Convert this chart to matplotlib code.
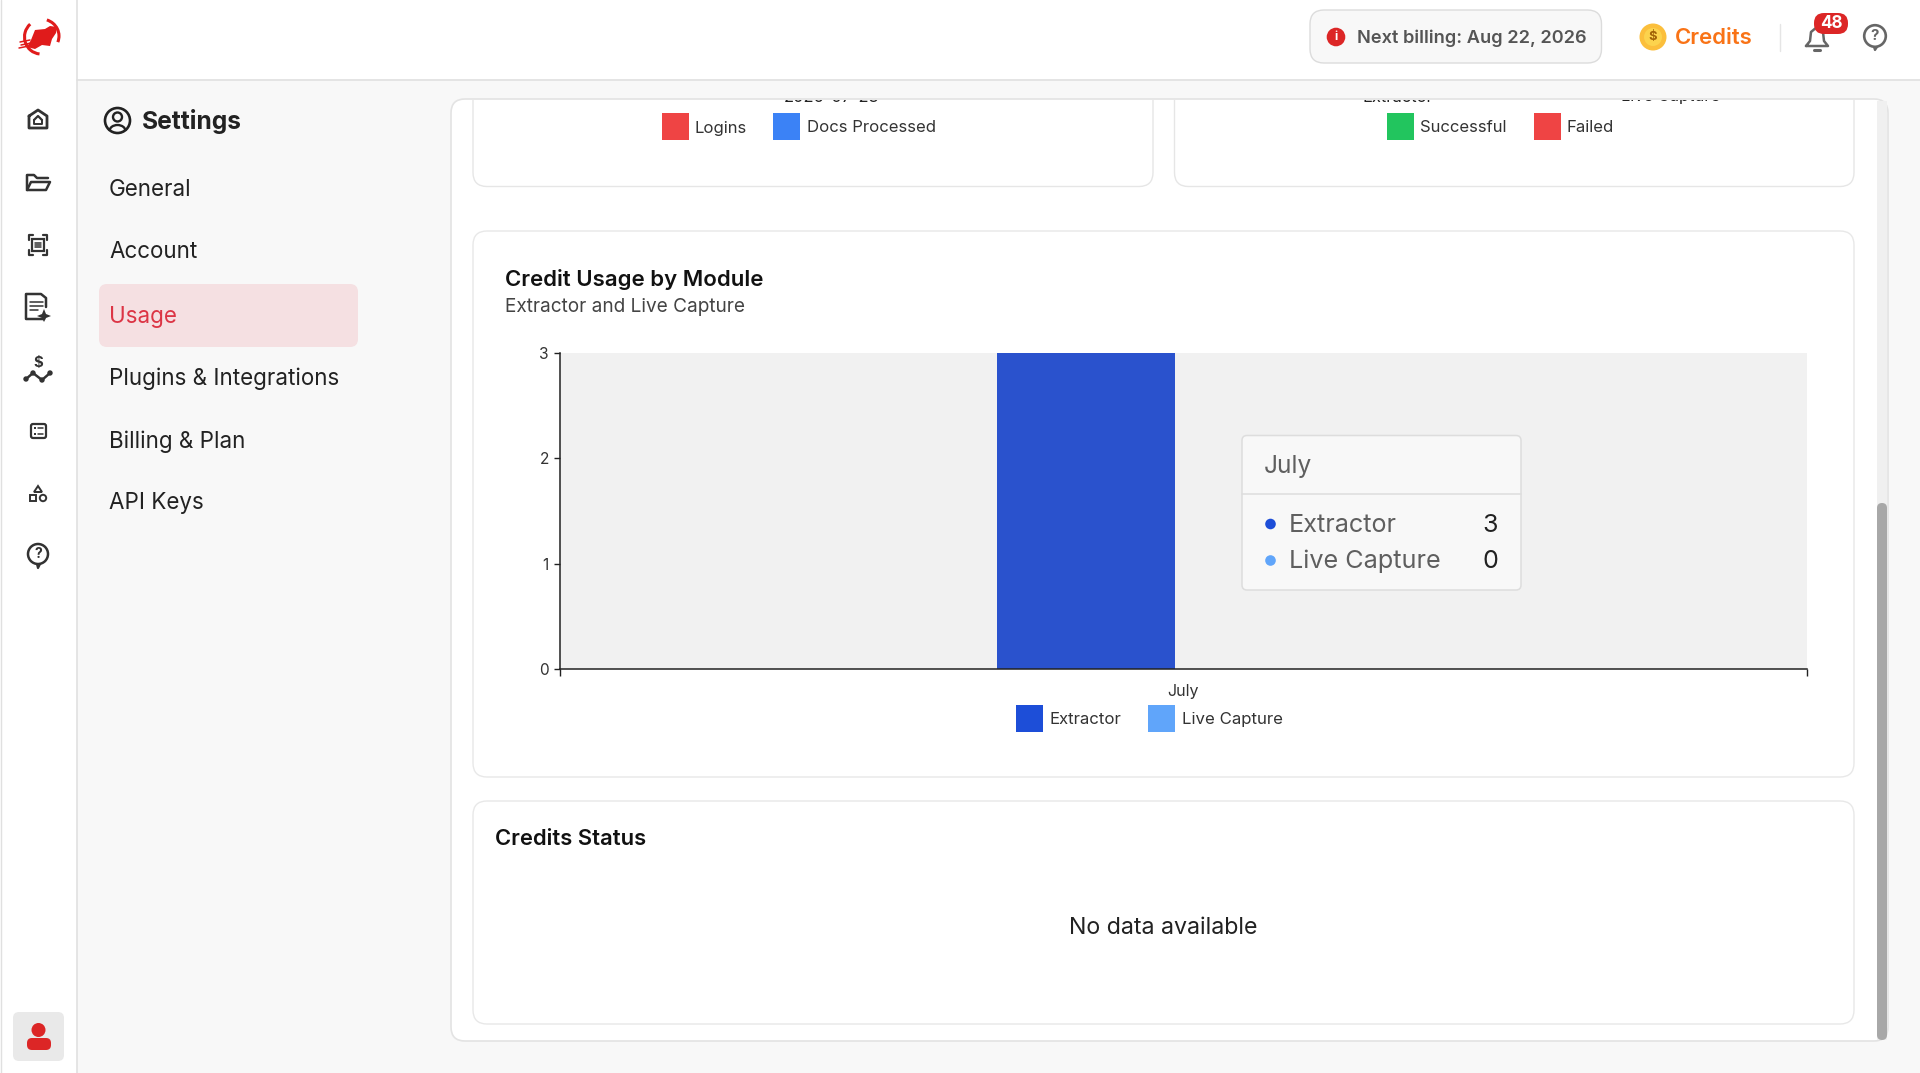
import matplotlib
matplotlib.use("Agg")
import matplotlib.pyplot as plt
from matplotlib.patches import FancyBboxPatch, Rectangle, Circle, Polygon, Patch, Arc
from matplotlib.lines import Line2D

plt.rcParams['font.family'] = ['Inter', 'DejaVu Sans']

# ---- data ----
months = ['July']
series_names = ['Extractor', 'Live Capture']
extractor = [3]
live_capture = [0]
y_ticks = [0, 1, 2, 3]
nav_items = ['General', 'Account', 'Usage', 'Plugins & Integrations', 'Billing & Plan', 'API Keys']

W, H = 1920, 1073
fig = plt.figure(figsize=(W / 100, H / 100), dpi=100, facecolor='#f8f8f8')

def px_axes(z):
    a = fig.add_axes([0, 0, 1, 1], zorder=z)
    a.set_xlim(0, W); a.set_ylim(H, 0); a.axis('off')
    a.patch.set_alpha(0)
    return a

bg = px_axes(0)
fg = px_axes(3)

def fs(px):
    return px * 0.72

def T(a, x, y, s, px, color='#222222', ha='left', weight='normal', **kw):
    return a.text(x, y + 3.5, s, fontsize=fs(px), color=color, ha=ha, va='center', fontweight=weight, **kw)

def RR(a, x0, y0, x1, y1, r, fc, ec='none', lw=1.0, z=1, clip=None):
    p = FancyBboxPatch((x0, y0), x1 - x0, y1 - y0, boxstyle=f'round,pad=0,rounding_size={r}',
                       fc=fc, ec=ec, lw=lw, zorder=z)
    a.add_patch(p)
    if clip is not None:
        p.set_clip_path(clip)
    return p

def L(a, xs, ys, c='#333333', lw=1.8, z=5):
    a.add_line(Line2D(xs, ys, color=c, lw=lw, zorder=z, solid_capstyle='round', solid_joinstyle='round'))

# ---- cards ----
RR(bg, 451, 99, 1888, 1041, 14, '#ffffff', '#e3e3e3', 1.2, z=1)
clip_rect = Rectangle((440, 99.5), 1460, 200, transform=bg.transData)
RR(bg, 473, 60, 1153, 186.5, 14, '#ffffff', '#e6e6e6', 1.0, z=2, clip=clip_rect)
RR(bg, 1174.5, 60, 1854, 186.5, 14, '#ffffff', '#e6e6e6', 1.0, z=2, clip=clip_rect)
RR(bg, 473, 231, 1854, 777, 14, '#ffffff', '#e8e8e8', 1.0, z=2)
RR(bg, 473, 801, 1854, 1024, 14, '#ffffff', '#e8e8e8', 1.0, z=2)

# scrollbar
bg.add_patch(Rectangle((1877, 101), 10, 939, fc='#f0f0f0', ec='none', zorder=3))
RR(bg, 1877, 503, 1887, 1040, 5, '#a8a8a8', z=4)

# cropped charts above
for x, s in [(832, '2026-07-23'), (1398, 'Extractor'), (1671, 'Live Capture')]:
    t = T(bg, x, 93.5, s, 16.5, '#222222', ha='center', zorder=3, clip_on=True)
    t.set_clip_path(clip_rect)
for x0, x1, c, tx, s in [(662, 689, '#ef4444', 695, 'Logins'),
                         (773, 800, '#3b82f6', 807, 'Docs Processed'),
                         (1387, 1414, '#22c55e', 1420, 'Successful'),
                         (1534, 1561, '#ef4444', 1567, 'Failed')]:
    bg.add_patch(Rectangle((x0, 113), x1 - x0, 27, fc=c, ec='none', zorder=3))
    T(bg, tx, 124.5, s, 16.7, '#333333', zorder=3)

# card titles
T(bg, 505, 276.5, 'Credit Usage by Module', 22.2, '#111111', weight='semibold', zorder=3)
T(bg, 505, 303.5, 'Extractor and Live Capture', 19, '#444444', zorder=3)
T(bg, 495, 835.5, 'Credits Status', 22, '#111111', weight='semibold', zorder=3)
T(bg, 1163, 924, 'No data available', 23.2, '#222222', ha='center', zorder=3)

# ---- sidebar & header ----
bg.add_patch(Rectangle((0, 0), 77, H, fc='#ffffff', ec='none', zorder=6))
L(bg, [76.5, 76.5], [0, H], '#e0e0e0', 1.2, 7)
L(bg, [0.5, 0.5], [0, H], '#e0e0e0', 1.0, 7)
bg.add_patch(Rectangle((77, 0), W - 77, 79, fc='#ffffff', ec='none', zorder=6))
L(bg, [77, W], [79.5, 79.5], '#e0e0e0', 1.2, 7)

# logo
red = '#e01b1b'
bg.add_patch(Polygon([(27, 47), (31, 40), (35, 30), (45, 29), (50, 26), (57, 27), (56, 33), (52, 39), (50, 46), (42, 45), (35, 49)],
                     fc=red, ec='none', zorder=8))
bg.add_patch(Arc((41, 37), 33, 34, theta1=95, theta2=230, ec=red, lw=2.2, zorder=8))
bg.add_patch(Arc((41, 36), 36, 34, theta1=-70, theta2=20, ec=red, lw=2.2, zorder=8))
for yy, x0 in [(42, 20), (45, 21), (48, 19)]:
    L(bg, [x0, x0 + 10], [yy, yy - 2], red, 1.1, 8)

# nav icons (x centre 38)
c = '#333333'
cx = 38
# home
L(bg, [cx - 9, cx, cx + 9, cx + 9, cx - 9, cx - 9], [116, 110, 116, 128, 128, 116], c, 2, 8)
L(bg, [cx - 4, cx, cx + 4], [120, 116, 120], c, 1.6, 8)
L(bg, [cx - 4, cx - 4, cx + 4, cx + 4], [120, 124, 124, 120], c, 1.4, 8)
# folder
L(bg, [cx - 11, cx - 11, cx - 4, cx - 1, cx + 10], [189, 175, 175, 178, 178], c, 1.8, 8)
L(bg, [cx - 11, cx - 7, cx + 12, cx + 8, cx - 11], [190, 182, 182, 190, 190], c, 1.8, 8)
# scan
for sx in (-1, 1):
    for sy in (-1, 1):
        L(bg, [cx + sx * 9, cx + sx * 9, cx + sx * 5], [245 + sy * 5, 245 + sy * 10, 245 + sy * 10], c, 1.6, 8)
bg.add_patch(Rectangle((cx - 6, 239), 12, 12, fc='none', ec=c, lw=1.6, zorder=8))
L(bg, [cx - 3, cx + 3], [243, 243], c, 1.1, 8); L(bg, [cx - 3, cx + 3], [245, 245], c, 1.1, 8); L(bg, [cx - 3, cx + 3], [247, 247], c, 1.1, 8)
# doc
L(bg, [cx + 6, cx + 6, cx - 12, cx - 12, cx + 3, cx + 8, cx + 8], [318, 319, 319, 294, 294, 298, 307], c, 1.8, 8)
for yy, w in [(302, 13), (306, 13), (310, 8)]:
    L(bg, [cx - 8, cx - 8 + w], [yy, yy], c, 1.1, 8)
bg.add_patch(Polygon([(cx + 6, 309), (cx + 8, 314), (cx + 13, 316), (cx + 8, 318), (cx + 6, 322), (cx + 4, 318), (cx - 1, 316), (cx + 4, 314)],
                     fc=c, ec='none', zorder=8))
# money trend
L(bg, [cx - 12, cx - 5, cx + 4, cx + 12], [379, 373, 380, 373], c, 1.8, 8)
for px_, py_ in [(cx - 12, 379), (cx - 5, 373), (cx + 4, 380), (cx + 12, 373)]:
    bg.add_patch(Circle((px_, py_), 2.7, fc=c, ec='none', zorder=8))
T(bg, cx, 359, '$', 15, c, ha='center', weight='bold', zorder=8)
# list card
RR(bg, cx - 7, 424, cx + 8, 438, 2, 'none', c, 1.6, z=8)
for yy in (428, 434):
    bg.add_patch(Rectangle((cx - 4, yy - 1), 2, 2, fc=c, ec='none', zorder=8))
    L(bg, [cx, cx + 5], [yy, yy], c, 1.1, 8)
# shapes
bg.add_patch(Polygon([(cx, 486), (cx + 4, 492), (cx - 4, 492)], fc='none', ec=c, lw=1.4, zorder=8))
bg.add_patch(Rectangle((cx - 8, 495), 6, 6, fc='none', ec=c, lw=1.4, zorder=8))
bg.add_patch(Circle((cx + 5, 498), 3.2, fc='none', ec=c, lw=1.4, zorder=8))
# help
bg.add_patch(Circle((cx, 554), 10, fc='none', ec=c, lw=1.8, zorder=8))
T(bg, cx, 550.5, '?', 14, c, ha='center', weight='bold', zorder=8)
L(bg, [cx - 1, cx, cx + 2], [564, 568, 564], c, 1.6, 8)

# avatar
RR(bg, 13, 1012, 64, 1061, 6, '#e9e9e9', z=8)
bg.add_patch(Circle((38.5, 1030), 7, fc='#dc2626', ec='none', zorder=9))
bg.add_patch(FancyBboxPatch((27, 1038), 24, 12, boxstyle='round,pad=0,rounding_size=5', fc='#dc2626', ec='none', zorder=9))

# settings panel
bg.add_patch(Circle((117.5, 120.5), 12.5, fc='none', ec='#222222', lw=1.9, zorder=8))
bg.add_patch(Circle((117.5, 117), 4.5, fc='none', ec='#222222', lw=1.7, zorder=8))
bg.add_patch(Arc((117.5, 131), 16, 12, theta1=180, theta2=360, ec='#222222', lw=1.7, zorder=8))
T(bg, 142, 118.5, 'Settings', 24.6, '#222222', weight='bold', zorder=8)

RR(bg, 99, 284, 358, 347, 8, '#f5e0e2', z=3)
nav_y = [186, 249, 313, 375, 438, 500]
for s, yy in zip(nav_items, nav_y):
    T(bg, 109, yy, s, 22.4, '#dc3545' if s == 'Usage' else '#222222', zorder=8)

# header items
RR(bg, 1310, 10, 1601.5, 63, 14, '#f8f8f8', '#dcdcdc', 1.0, z=8)
bg.add_patch(Circle((1336, 37), 9.3, fc='#dc2626', ec='none', zorder=9))
T(bg, 1336, 33.5, 'i', 12, '#ffffff', ha='center', weight='bold', zorder=10)
T(bg, 1357, 34.5, 'Next billing: Aug 22, 2026', 18.2, '#555555', weight='semibold', zorder=9)
bg.add_patch(Circle((1653, 37), 13.5, fc='#fbbf3c', ec='none', zorder=9))
bg.add_patch(Circle((1653, 37), 9, fc='#fcd34d', ec='none', zorder=10))
T(bg, 1653, 33.5, '$', 13, '#a16207', ha='center', weight='bold', zorder=11)
T(bg, 1675, 34.5, 'Credits', 22.2, '#f97316', weight='semibold', zorder=9)
L(bg, [1780, 1780], [24, 51], '#e5e5e5', 1.0, 9)
# bell
g = '#666666'
L(bg, [1806, 1810, 1811, 1817, 1823, 1824, 1828, 1806], [46, 41, 32, 27, 32, 41, 46, 46], g, 1.8, 9)
L(bg, [1814, 1820], [50, 50], g, 2.2, 9)
RR(bg, 1814, 13, 1848, 34, 10, '#dc2626', z=10)
T(bg, 1831, 20, '48', 17, '#ffffff', ha='center', weight='bold', zorder=11)
# help
bg.add_patch(Circle((1875, 36), 10.8, fc='none', ec=g, lw=1.9, zorder=9))
T(bg, 1875, 32.5, '?', 15, g, ha='center', weight='bold', zorder=10)
L(bg, [1874, 1875, 1877], [47, 50, 47], g, 1.6, 9)

# ---- chart ----
ax_l, ax_r, ax_t, ax_b = 559.5, 1807, 353, 669
ax = fig.add_axes([ax_l / W, 1 - ax_b / H, (ax_r - ax_l) / W, (ax_b - ax_t) / H], zorder=2, facecolor='#f1f1f1')
bar_w = 0.1425
positions = list(range(len(months)))
ax.bar([p - 0.078 for p in positions], extractor, bar_w, color='#2a52cd', label=series_names[0])
ax.bar([p + 0.078 for p in positions], live_capture, bar_w, color='#60a5fa', label=series_names[1])
ax.set_xlim(-0.5, 0.5)
ax.set_ylim(0, 3)
ax.set_yticks(y_ticks)
ax.set_xticks([-0.5, 0.5])
ax.set_xticklabels([])
ax.set_xticks(positions, months, minor=True)
ax.tick_params(axis='x', which='major', length=6.5 * 0.72, width=1.0, color='#222222')
ax.tick_params(axis='x', which='minor', length=0, pad=11, labelsize=fs(16), labelcolor='#333333')
ax.tick_params(axis='y', length=6.5 * 0.72, width=1.0, color='#222222', pad=3, labelsize=fs(15.5), labelcolor='#333333')
for s in ('top', 'right'):
    ax.spines[s].set_visible(False)
for s in ('left', 'bottom'):
    ax.spines[s].set_color('#222222')
    ax.spines[s].set_linewidth(1.1)
handles = [Patch(fc='#1d4ed8', ec='none'), Patch(fc='#60a5fa', ec='none')]
fsize = fs(16.8)
leg = fig.legend(handles, series_names, loc='center', bbox_to_anchor=(1149.5 / W, 1 - 718.5 / H), ncol=2,
                 frameon=False, fontsize=fsize, handlelength=27 * 0.72 / fsize, handleheight=25.5 * 0.72 / fsize / 0.7,
                 handletextpad=6.5 * 0.72 / fsize, columnspacing=27 * 0.72 / fsize, labelcolor='#333333',
                 borderpad=0, borderaxespad=0)
leg.set_zorder(3)

# ---- tooltip ----
RR(fg, 1242, 435.5, 1521, 590, 5, '#f8f8f8', '#dddddd', 1.1, z=10)
L(fg, [1242, 1521], [494, 494], '#dddddd', 1.1, 11)
T(fg, 1264, 462.5, months[0], 24.5, '#5f5f5f', zorder=12)
rows = [(521.5, '#1d4ed8', series_names[0], extractor[0]), (558, '#60a5fa', series_names[1], live_capture[0])]
for yy, col, nm, v in rows:
    fg.add_patch(Circle((1270.5, yy + 2.5), 5.3, fc=col, ec='none', zorder=12))
    T(fg, 1289, yy, nm, 25.2, '#5f5f5f', zorder=12)
    T(fg, 1498, yy, str(v), 25.2, '#222222', ha='right', zorder=12)

fig.savefig('out.png', dpi=100, facecolor=fig.get_facecolor())
